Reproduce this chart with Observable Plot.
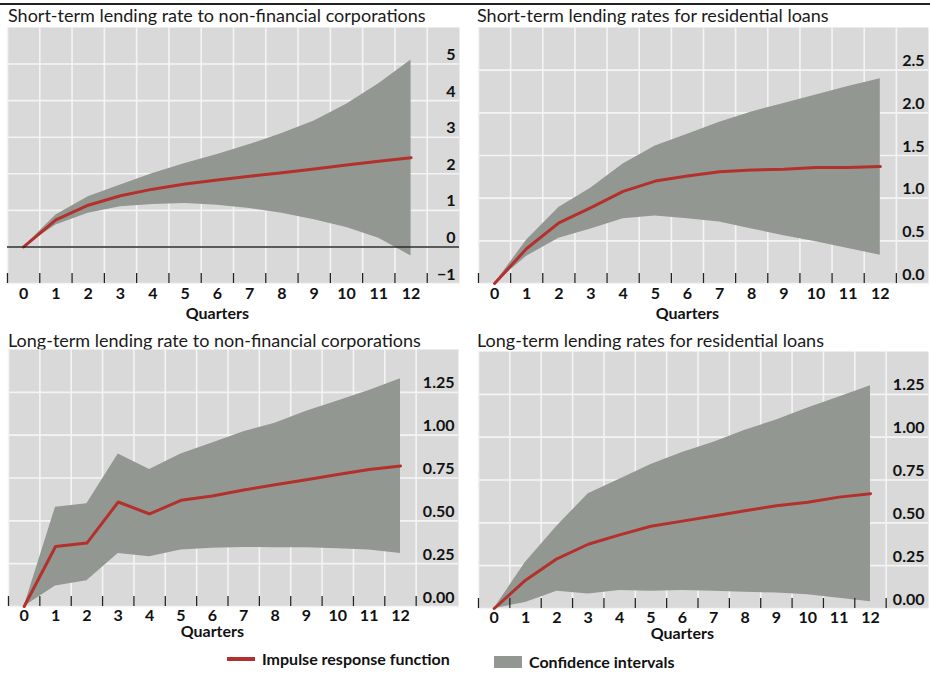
<!DOCTYPE html>
<html><head><meta charset="utf-8">
<script src="https://cdn.jsdelivr.net/npm/d3@7"></script>
<script src="https://cdn.jsdelivr.net/npm/@observablehq/plot@0.6"></script>
<style>
body{margin:0;background:#fff;font-family:Lato,"Open Sans",sans-serif;}
#root{position:relative;width:930px;height:674px;overflow:hidden;}
.title{position:absolute;font-size:18px;line-height:20px;color:#1a1a1a;white-space:nowrap;}
.panel{position:absolute;}
.panel svg{overflow:visible;}
.leg{position:absolute;font-size:16px;font-weight:bold;color:#111;white-space:nowrap;line-height:18px;}
</style></head><body><div id="root"></div>
<script>
// ---- data ----
const quarters = [0,1,2,3,4,5,6,7,8,9,10,11,12];
const gridX = [-0.5,0.5,1.5,2.5,3.5,4.5,5.5,6.5,7.5,8.5,9.5,10.5,11.5,12.5];

const titles = [
  "Short-term lending rate to non-financial corporations",
  "Short-term lending rates for residential loans",
  "Long-term lending rate to non-financial corporations",
  "Long-term lending rates for residential loans"
];

// Short-term NFC
const stNfcIrf   = [0,0.74,1.14,1.40,1.58,1.72,1.83,1.93,2.03,2.13,2.24,2.34,2.44];
const stNfcUpper = [0,0.87,1.37,1.69,2.01,2.28,2.53,2.80,3.10,3.44,3.90,4.46,5.11];
const stNfcLower = [0,0.60,0.92,1.10,1.16,1.19,1.14,1.05,0.92,0.74,0.53,0.24,-0.25];
// Short-term residential
const stResIrf   = [0,0.41,0.71,0.89,1.08,1.20,1.26,1.31,1.33,1.34,1.36,1.36,1.37];
const stResUpper = [0,0.51,0.89,1.12,1.40,1.61,1.75,1.89,2.01,2.11,2.21,2.31,2.40];
const stResLower = [0,0.32,0.53,0.64,0.76,0.79,0.76,0.72,0.64,0.56,0.49,0.41,0.33];
// Long-term NFC
const ltNfcIrf   = [0,0.35,0.37,0.61,0.54,0.62,0.645,0.68,0.71,0.74,0.77,0.80,0.82];
const ltNfcUpper = [0,0.58,0.60,0.89,0.80,0.89,0.955,1.02,1.07,1.14,1.20,1.26,1.33];
const ltNfcLower = [0,0.12,0.15,0.31,0.29,0.33,0.34,0.345,0.343,0.343,0.337,0.33,0.31];
// Long-term residential
const ltResIrf   = [0,0.165,0.29,0.375,0.43,0.48,0.51,0.54,0.57,0.60,0.62,0.65,0.67];
const ltResUpper = [0,0.27,0.48,0.67,0.755,0.84,0.91,0.97,1.04,1.10,1.17,1.235,1.30];
const ltResLower = [0,0.035,0.10,0.085,0.105,0.10,0.105,0.10,0.095,0.09,0.08,0.06,0.04];

const yTicks1 = [-1,0,1,2,3,4,5];
const yLabels1 = ["\u22121","0","1","2","3","4","5"];
const yTicks2 = [0,0.5,1,1.5,2,2.5];
const yLabels2 = ["0.0","0.5","1.0","1.5","2.0","2.5"];
const yTicks3 = [0,0.25,0.5,0.75,1,1.25];
const yLabels3 = ["0.00","0.25","0.50","0.75","1.00","1.25"];

const legendLabels = ["Impulse response function","Confidence intervals"];

// ---- styles ----
const BG = "#d9d9d9", BAND = "#929891", RED = "#b3302d", INK = "#111";

const root = document.getElementById("root");
// top rule
const topRule = document.createElement("div");
Object.assign(topRule.style,{position:"absolute",left:"0px",top:"3px",width:"930px",height:"1.5px",background:"#222"});
root.appendChild(topRule);

function panel(cfg){
  const t = document.createElement("div");
  t.className = "title";
  t.textContent = cfg.title;
  t.style.left = cfg.tLeft+"px"; t.style.top = cfg.tTop+"px";
  root.appendChild(t);

  const rows = quarters.map((q,i)=>({q, irf:cfg.irf[i], lo:cfg.lo[i], hi:cfg.hi[i]}));
  const ticks = cfg.yTicks.map((v,i)=>({v, label:cfg.yLabels[i]}));
  const marks = [
    Plot.frame({fill:BG, stroke:"none"}),
    Plot.ruleY(cfg.yTicks, {stroke:"#f4f4f4", strokeWidth:1.6}),
    Plot.ruleX(gridX, {stroke:"#f4f4f4", strokeWidth:1.6}),
    Plot.areaY(rows, {x:"q", y1:"lo", y2:"hi", fill:BAND, curve:"linear"}),
    Plot.line(rows, {x:"q", y:"irf", stroke:RED, strokeWidth:3}),
  ];
  if (cfg.zero) marks.push(Plot.ruleY([0], {stroke:"#2a2a2a", strokeWidth:1.5}));
  marks.push(
    Plot.ruleX(gridX, {stroke:"#222", strokeWidth:1.3, insetTop:cfg.h-10}),
    Plot.text(ticks, {y:"v", text:"label", frameAnchor:"right", textAnchor:"end", dx:-4, dy:-9,
      fontSize:16, fontWeight:"bold", fill:INK}),
    Plot.text(quarters, {x:d=>d, text:d=>String(d), frameAnchor:"bottom", dy:cfg.tickDy,
      fontSize:16, fontWeight:"bold", fill:INK}),
    Plot.text(["Quarters"], {x:[6], text:d=>d, frameAnchor:"bottom", dy:cfg.qDy,
      fontSize:16, fontWeight:"bold", fill:INK})
  );
  const chart = Plot.plot({
    width: cfg.w, height: cfg.h + 50,
    marginLeft:0, marginRight:0, marginTop:0, marginBottom:50,
    x:{domain:cfg.xDomain, axis:null},
    y:{domain:cfg.yDomain, axis:null},
    style:{fontFamily:"Lato, 'Open Sans', sans-serif", background:"transparent", overflow:"visible"},
    marks
  });
  const d = document.createElement("div");
  d.className = "panel";
  d.style.left = cfg.left+"px"; d.style.top = cfg.top+"px";
  d.appendChild(chart);
  root.appendChild(d);
}

panel({title:titles[0], tLeft:8, tTop:5, left:7, top:27, w:452, h:256, xDomain:[-0.5,13.5], yDomain:[-1,6],
  irf:stNfcIrf, lo:stNfcLower, hi:stNfcUpper, yTicks:yTicks1, yLabels:yLabels1, zero:true, tickDy:15, qDy:35});
panel({title:titles[1], tLeft:477, tTop:5, left:478, top:27, w:450, h:256, xDomain:[-0.5,13.5], yDomain:[0,3],
  irf:stResIrf, lo:stResLower, hi:stResUpper, yTicks:yTicks2, yLabels:yLabels2, zero:false, tickDy:15, qDy:35});
panel({title:titles[2], tLeft:8, tTop:330, left:8, top:349, w:450, h:257, xDomain:[-0.5,13.85], yDomain:[0,1.5],
  irf:ltNfcIrf, lo:ltNfcLower, hi:ltNfcUpper, yTicks:yTicks3, yLabels:yLabels3, zero:false, tickDy:14, qDy:30});
panel({title:titles[3], tLeft:477, tTop:330, left:478, top:351, w:450, h:257, xDomain:[-0.5,13.85], yDomain:[0,1.5],
  irf:ltResIrf, lo:ltResLower, hi:ltResUpper, yTicks:yTicks3, yLabels:yLabels3, zero:false, tickDy:14.5, qDy:30.5});

// legend
const l1 = document.createElement("div");
Object.assign(l1.style,{position:"absolute",left:"227px",top:"657px",width:"28px",height:"3.5px",background:RED});
root.appendChild(l1);
const t1 = document.createElement("div"); t1.className="leg"; t1.textContent=legendLabels[0];
t1.style.left="262px"; t1.style.top="650px"; root.appendChild(t1);
const l2 = document.createElement("div");
Object.assign(l2.style,{position:"absolute",left:"494px",top:"656px",width:"28px",height:"12px",background:BAND});
root.appendChild(l2);
const t2 = document.createElement("div"); t2.className="leg"; t2.textContent=legendLabels[1];
t2.style.left="529px"; t2.style.top="653px"; root.appendChild(t2);
</script></body></html>
